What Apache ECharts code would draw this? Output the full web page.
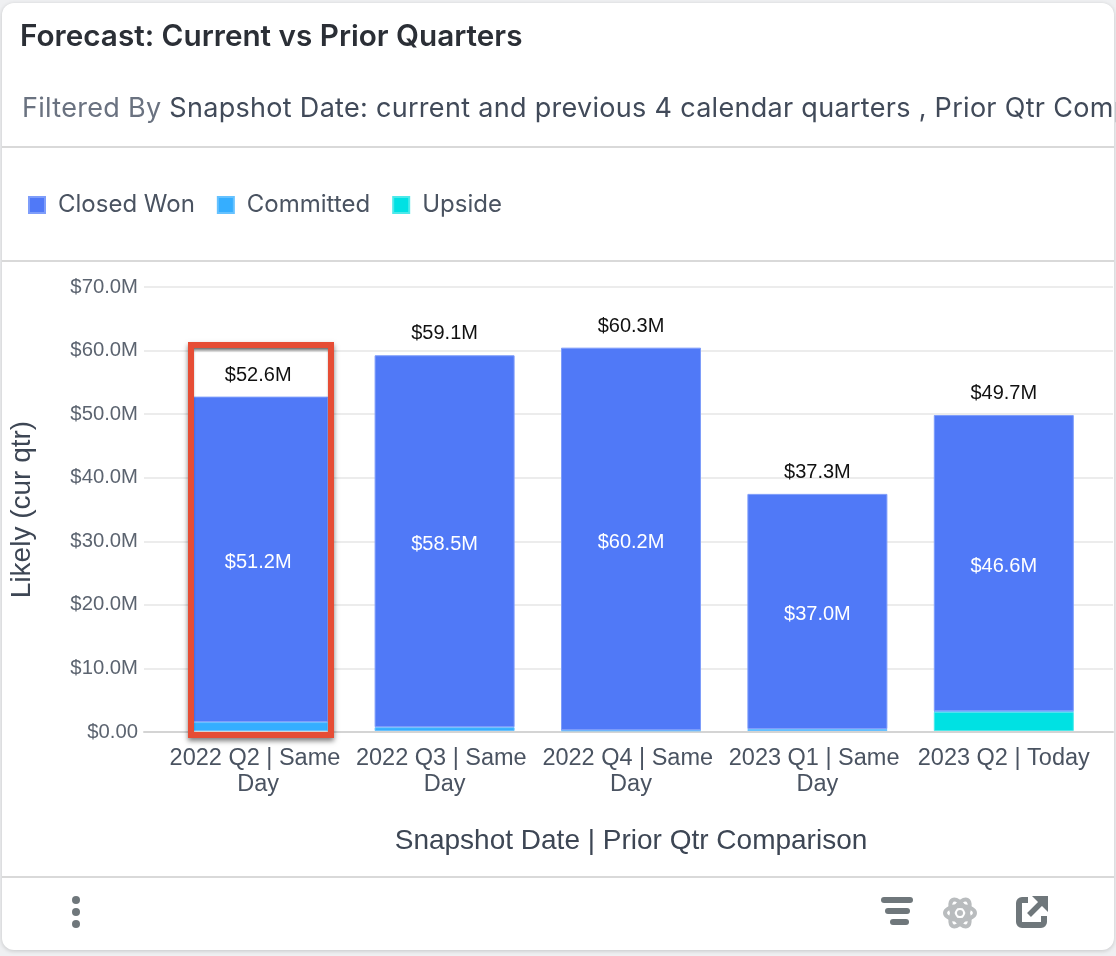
<!DOCTYPE html>
<html lang="en">
<head>
<meta charset="UTF-8">
<title>Forecast: Current vs Prior Quarters</title>
<script src="https://cdn.jsdelivr.net/npm/echarts@6/dist/echarts.min.js"></script>
<style>
    html, body { margin: 0; padding: 0; background: #eff0f2; }
    body { width: 1116px; height: 956px; position: relative; overflow: hidden; }
    .card { position: absolute; left: 2px; top: 3px; width: 1112px; height: 947px; background: #fff;
            border-radius: 12px; box-shadow: 0 1px 4px rgba(0,0,0,.18); overflow: hidden; }
    #chart { position: absolute; left: 0; top: 0; width: 1116px; height: 956px; }
    .title { position: absolute; left: 20px; top: 17px; font: 600 29.7px Inter, sans-serif; color: #2b2f36; white-space: nowrap; }
    .filter { position: absolute; left: 22px; top: 91px; width: 1094px; overflow: hidden; white-space: nowrap;
              font: 27px Inter, sans-serif; letter-spacing: .3px; color: #414a59; }
    .filter span { color: #6a7280; }
    .rule { position: absolute; left: 2px; width: 1112px; height: 2px; background: #d9d9d9; }
    .selected { position: absolute; left: 188px; top: 342px; width: 134px; height: 384px; border: 6px solid #e64d35;
                box-shadow: 0 3px 5px rgba(0,0,0,.5), inset 0 3px 3px -1px rgba(0,0,0,.6); }
    svg { position: absolute; }
</style>
</head>
<body>
<div class="card"></div>
<div id="chart"></div>
<div class="title">Forecast: Current vs Prior Quarters</div>
<div class="filter"><span>Filtered By</span> Snapshot Date: current and previous 4 calendar quarters , Prior Qtr Comparison</div>
<div class="rule" style="top:146px"></div>
<div class="rule" style="top:260px"></div>
<div class="rule" style="top:876px"></div>
<div class="selected"></div>

<!-- footer icons -->
<svg style="left:68px;top:894px" width="16" height="36" fill="#6f777b">
    <circle cx="8" cy="6" r="4"/><circle cx="8" cy="18" r="4"/><circle cx="8" cy="30" r="4"/>
</svg>
<svg style="left:878px;top:895px" width="36" height="34" fill="#6f777b">
    <rect x="3" y="2" width="32" height="6" rx="3"/><rect x="7" y="13" width="25" height="6" rx="3"/><rect x="12" y="24" width="19" height="6" rx="3"/>
</svg>
<svg style="left:942px;top:895px" width="36" height="36" fill="none" stroke="#b9bcbe" stroke-width="4">
    <ellipse cx="18" cy="18" rx="15" ry="7"/>
    <ellipse cx="18" cy="18" rx="15" ry="7" transform="rotate(60 18 18)"/>
    <ellipse cx="18" cy="18" rx="15" ry="7" transform="rotate(120 18 18)"/>
    <circle cx="18" cy="18" r="3" fill="#b9bcbe" stroke="none"/>
</svg>
<svg style="left:1014px;top:894px" width="36" height="36" fill="none" stroke="#6f777b" stroke-width="6">
    <path d="M14 6H8a3 3 0 0 0-3 3v19a3 3 0 0 0 3 3h19a3 3 0 0 0 3-3v-6"/>
    <path d="M15 21L28 8" stroke-width="5.5"/>
    <path d="M18 2h16v16z" fill="#6f777b" stroke="none"/>
</svg>

<script>
    var categories = ['2022 Q2 | Same \nDay', '2022 Q3 | Same \nDay', '2022 Q4 | Same \nDay', '2023 Q1 | Same \nDay', '2023 Q2 | Today'];
    var closedWon = [51.2, 58.5, 60.2, 37.0, 46.6];
    var committed = [1.4, 0.6, 0.1, 0.3, 0.1];
    var upside = [null, null, null, null, 3.0];
    var totals = [52.6, 59.1, 60.3, 37.3, 49.7];

    var sansFont = 'Liberation Sans';
    var uiFont = 'Inter';
    var money = function (v) { return '$' + v.toFixed(1) + 'M'; };

    var chart = echarts.init(document.getElementById('chart'));

    function stacked(name, data, color, edge, label) {
        return {
            name: name, type: 'bar', stack: 'forecast', xAxisIndex: 1, yAxisIndex: 1,
            barWidth: 140, data: data,
            itemStyle: { color: color, borderColor: edge, borderWidth: 1 },
            label: label || { show: false }
        };
    }

    chart.setOption({
        animation: false,
        legend: {
            left: 23, top: 188, itemWidth: 16, itemHeight: 16, itemGap: 22,
            icon: 'rect',
            data: ['Closed Won', 'Committed', 'Upside'],
            textStyle: { fontFamily: uiFont, fontSize: 24, color: '#4a5361', padding: [0, 0, 0, 8] }
        },
        // grid 0 carries the long gridlines and baseline, grid 1 the bars
        grid: [
            { left: 142, top: 287, width: 971, height: 445 },
            { left: 165, top: 286, width: 932, height: 445 }
        ],
        xAxis: [
            {
                gridIndex: 0, type: 'category', data: [''],
                axisLine: { lineStyle: { color: '#d4d4d4', width: 2 } },
                axisTick: { show: false }, axisLabel: { show: false }
            },
            {
                gridIndex: 1, type: 'category', data: categories,
                axisLine: { show: false },
                axisTick: { alignWithLabel: true, length: 9, lineStyle: { color: '#e2e2e2', width: 2 } },
                axisLabel: { fontFamily: sansFont, fontSize: 23.5, lineHeight: 26, color: '#4a5361', margin: 15, interval: 0 },
                name: 'Snapshot Date | Prior Qtr Comparison', nameLocation: 'middle', nameGap: 96,
                nameTextStyle: { fontFamily: sansFont, fontSize: 28, color: '#3d4654' }
            }
        ],
        yAxis: [
            {
                gridIndex: 0, type: 'value', min: 0, max: 70, interval: 10,
                axisLine: { show: false }, axisTick: { show: false },
                splitLine: { lineStyle: { color: '#ececec', width: 2 } },
                axisLabel: {
                    fontFamily: sansFont, fontSize: 20.3, color: '#5c6470', margin: 6,
                    formatter: function (v) { return v === 0 ? '$0.00' : money(v); }
                },
                name: 'Likely (cur qtr)', nameLocation: 'middle', nameGap: 108,
                nameTextStyle: { fontFamily: sansFont, fontSize: 28, color: '#3d4654' }
            },
            {
                gridIndex: 1, type: 'value', min: 0, max: 70, interval: 10, show: false
            }
        ],
        series: [
            stacked('Upside', upside, '#00e1e3', '#4de9ea'),
            stacked('Committed', committed, '#35aeff', '#66c2ff'),
            stacked('Closed Won', closedWon, '#5079f7', '#7e9dfa', {
                show: true, position: 'inside', offset: [0, 3], fontFamily: sansFont, fontSize: 20, color: '#fff',
                formatter: function (p) { return money(p.value); }
            }),
            {
                name: 'Total', type: 'line', xAxisIndex: 1, yAxisIndex: 1, data: totals,
                symbol: 'circle', symbolSize: 1, itemStyle: { color: 'rgba(0,0,0,0)' },
                lineStyle: { opacity: 0 }, silent: true, z: 5,
                label: {
                    show: true, position: 'top', distance: 11, fontFamily: sansFont, fontSize: 20, color: '#111',
                    formatter: function (p) { return money(p.value); }
                }
            }
        ]
    });
</script>
</body>
</html>
